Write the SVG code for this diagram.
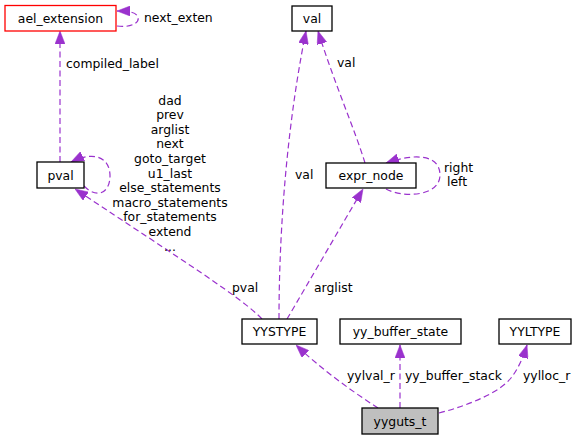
<svg xmlns="http://www.w3.org/2000/svg" width="577" height="440" viewBox="0 0 577 440">
<style>
  text { font-family: "DejaVu Sans", "Liberation Sans", sans-serif; font-size: 12.4px; fill: #000; }
  .node rect { fill: #fff; stroke: #000; stroke-width: 1.3; }
  .node text { text-anchor: middle; }
  .edge { fill: none; stroke: #9a32cd; stroke-width: 1.2; stroke-dasharray: 6,3.5; marker-end: url(#arr); }
  .mid { text-anchor: middle; }
</style>
<defs>
  <marker id="arr" viewBox="0 0 13 10" refX="13" refY="5" markerWidth="13" markerHeight="10" markerUnits="userSpaceOnUse" orient="auto">
    <path d="M0,0 L13,5 L0,10 z" fill="#9a32cd" stroke="#9a32cd" stroke-width="0.5"/>
  </marker>
</defs>
<rect width="577" height="440" fill="#fff"/>
<g id="edges">
  <path class="edge" d="M60,162 L60,31"/>
  <path class="edge" d="M117,26 C130,28 140,23 138,17 C136,12 128,11 117,11"/>
  <path class="edge" d="M84,186 C98,200 110,192 110,176 C110,158 95,150 71,162"/>
  <path class="edge" d="M262,319 C242,298 185,262 75,189"/>
  <path class="edge" d="M279,319 C279,250 284,140 306,31"/>
  <path class="edge" d="M287,319 C310,280 340,228 363,189"/>
  <path class="edge" d="M365,163 C355,130 335,85 318,31"/>
  <path class="edge" d="M386,189 C402,198 440,197 440,175 C440,156 418,152 386,163"/>
  <path class="edge" d="M378,408 C350,390 320,368 296,345"/>
  <path class="edge" d="M400,408 L400,345"/>
  <path class="edge" d="M439,413 C470,405 500,392 511,378 C518,369 523,358 527,345"/>
  <text x="144" y="22">next_exten</text>
  <text x="66" y="67.5">compiled_label</text>
  <text class="mid" x="170" y="104.5">dad</text>
  <text class="mid" x="170" y="119.1">prev</text>
  <text class="mid" x="170" y="133.7">arglist</text>
  <text class="mid" x="170" y="148.3">next</text>
  <text class="mid" x="170" y="162.9">goto_target</text>
  <text class="mid" x="170" y="177.5">u1_last</text>
  <text class="mid" x="170" y="192.1">else_statements</text>
  <text class="mid" x="170" y="206.7">macro_statements</text>
  <text class="mid" x="170" y="221.3">for_statements</text>
  <text class="mid" x="170" y="235.9">extend</text>
  <text class="mid" x="170" y="250.5">...</text>
  <text x="295" y="179">val</text>
  <text x="337" y="67">val</text>
  <text x="444" y="171.5">right</text>
  <text x="447" y="186">left</text>
  <text x="232" y="291.5">pval</text>
  <text x="314" y="291.5">arglist</text>
  <text x="347" y="379.5">yylval_r</text>
  <text x="405" y="379.5">yy_buffer_stack</text>
  <text x="523" y="379.5">yylloc_r</text>
</g>
<g id="ael_extension" class="node"><rect x="5" y="5.5" width="111" height="25.5" style="stroke:#ff0000"/><text x="60.5" y="22.5">ael_extension</text></g>
<g id="pval" class="node"><rect x="37" y="162" width="47" height="26"/><text x="60.5" y="179.5">pval</text></g>
<g id="val" class="node"><rect x="292" y="6" width="40" height="25"/><text x="312" y="23">val</text></g>
<g id="expr_node" class="node"><rect x="326" y="163" width="90" height="25"/><text x="371" y="180">expr_node</text></g>
<g id="YYSTYPE" class="node"><rect x="242" y="319" width="75" height="25"/><text x="279.5" y="336">YYSTYPE</text></g>
<g id="yy_buffer_state" class="node"><rect x="340" y="319" width="121" height="25"/><text x="400.5" y="336">yy_buffer_state</text></g>
<g id="YYLTYPE" class="node"><rect x="499" y="319" width="72" height="25"/><text x="535" y="336">YYLTYPE</text></g>
<g id="yyguts_t" class="node"><rect x="362" y="408" width="76" height="26" style="fill:#bfbfbf"/><text x="400" y="425.5">yyguts_t</text></g>
</svg>
